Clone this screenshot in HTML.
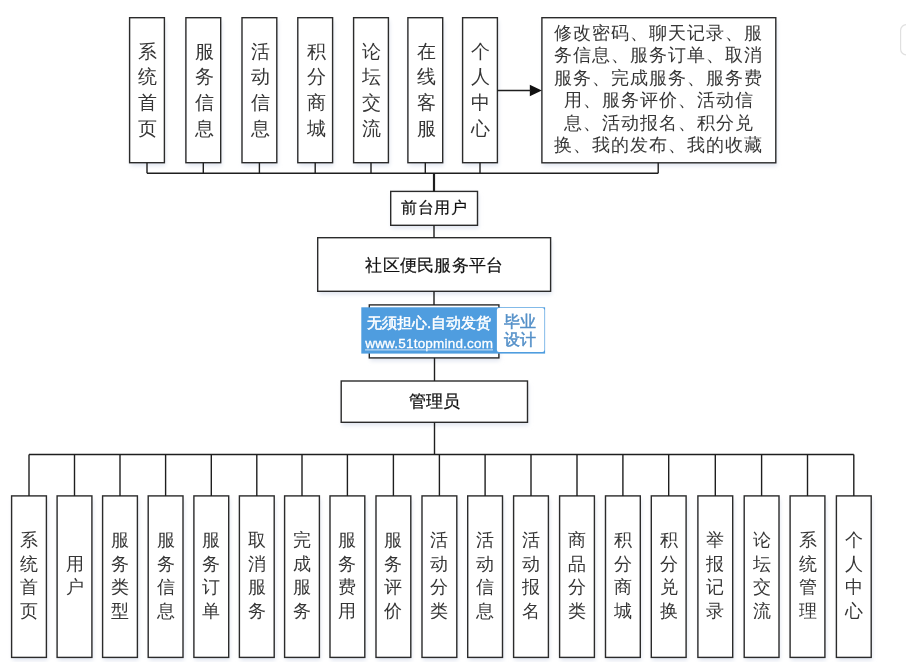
<!DOCTYPE html>
<html><head><meta charset="utf-8"><title>社区便民服务平台</title>
<style>
html,body{margin:0;padding:0;background:#fff;width:906px;height:662px;overflow:hidden}
svg{display:block;will-change:transform}
text{font-family:"Liberation Serif",serif;text-anchor:middle;dominant-baseline:central}
text.m,text.w,text.w2{font-family:"Liberation Sans",sans-serif}
text.wl{font-family:"Liberation Sans",sans-serif}
</style></head>
<body>
<svg width="906" height="662" viewBox="0 0 906 662">
<defs><filter id="sh" x="-50%" y="-50%" width="200%" height="200%"><feGaussianBlur stdDeviation="2"/></filter></defs>
<g filter="url(#sh)"><rect x="130.6" y="20.7" width="34.8" height="145" fill="#dfe4ef"/>
<rect x="186.9" y="20.7" width="34.8" height="145" fill="#dfe4ef"/>
<rect x="243" y="20.7" width="34.8" height="145" fill="#dfe4ef"/>
<rect x="298.8" y="20.7" width="34.8" height="145" fill="#dfe4ef"/>
<rect x="354.6" y="20.7" width="34.8" height="145" fill="#dfe4ef"/>
<rect x="408.9" y="20.7" width="34.8" height="145" fill="#dfe4ef"/>
<rect x="463.6" y="20.7" width="34.8" height="145" fill="#dfe4ef"/>
<rect x="542.9" y="20.7" width="233.9" height="145.1" fill="#dfe4ef"/>
<rect x="391.7" y="194.4" width="86.8" height="33.9" fill="#dfe4ef"/>
<rect x="318.7" y="240.7" width="232.9" height="53.6" fill="#dfe4ef"/>
<rect x="370.3" y="307.9" width="129.6" height="53" fill="#dfe4ef"/>
<rect x="342.2" y="384" width="186.3" height="41.3" fill="#dfe4ef"/>
<rect x="12.6" y="498.9" width="34.8" height="161.5" fill="#dfe4ef"/>
<rect x="58.1" y="498.9" width="34.8" height="161.5" fill="#dfe4ef"/>
<rect x="103.6" y="498.9" width="34.8" height="161.5" fill="#dfe4ef"/>
<rect x="149.2" y="498.9" width="34.8" height="161.5" fill="#dfe4ef"/>
<rect x="194.9" y="498.9" width="34.8" height="161.5" fill="#dfe4ef"/>
<rect x="240.4" y="498.9" width="34.8" height="161.5" fill="#dfe4ef"/>
<rect x="285.6" y="498.9" width="34.8" height="161.5" fill="#dfe4ef"/>
<rect x="331" y="498.9" width="34.8" height="161.5" fill="#dfe4ef"/>
<rect x="377" y="498.9" width="34.8" height="161.5" fill="#dfe4ef"/>
<rect x="423" y="498.9" width="34.8" height="161.5" fill="#dfe4ef"/>
<rect x="468.7" y="498.9" width="34.8" height="161.5" fill="#dfe4ef"/>
<rect x="514.6" y="498.9" width="34.8" height="161.5" fill="#dfe4ef"/>
<rect x="560.6" y="498.9" width="34.8" height="161.5" fill="#dfe4ef"/>
<rect x="606.5" y="498.9" width="34.8" height="161.5" fill="#dfe4ef"/>
<rect x="652.3" y="498.9" width="34.8" height="161.5" fill="#dfe4ef"/>
<rect x="698.9" y="498.9" width="34.8" height="161.5" fill="#dfe4ef"/>
<rect x="745.2" y="498.9" width="34.8" height="161.5" fill="#dfe4ef"/>
<rect x="791.1" y="498.9" width="34.8" height="161.5" fill="#dfe4ef"/>
<rect x="837.4" y="498.9" width="34.8" height="161.5" fill="#dfe4ef"/></g>
<rect x="129.6" y="17.7" width="34.8" height="145" fill="#fff" stroke="#2b2b2b" stroke-width="1.4"/>
<text class="t" x="147.8" y="51.2" font-size="19" fill="#363636" >系</text>
<text class="t" x="147.8" y="76.8" font-size="19" fill="#363636" >统</text>
<text class="t" x="147.8" y="102.4" font-size="19" fill="#363636" >首</text>
<text class="t" x="147.8" y="128" font-size="19" fill="#363636" >页</text>
<rect x="185.9" y="17.7" width="34.8" height="145" fill="#fff" stroke="#2b2b2b" stroke-width="1.4"/>
<text class="t" x="204.1" y="51.2" font-size="19" fill="#363636" >服</text>
<text class="t" x="204.1" y="76.8" font-size="19" fill="#363636" >务</text>
<text class="t" x="204.1" y="102.4" font-size="19" fill="#363636" >信</text>
<text class="t" x="204.1" y="128" font-size="19" fill="#363636" >息</text>
<rect x="242" y="17.7" width="34.8" height="145" fill="#fff" stroke="#2b2b2b" stroke-width="1.4"/>
<text class="t" x="260.2" y="51.2" font-size="19" fill="#363636" >活</text>
<text class="t" x="260.2" y="76.8" font-size="19" fill="#363636" >动</text>
<text class="t" x="260.2" y="102.4" font-size="19" fill="#363636" >信</text>
<text class="t" x="260.2" y="128" font-size="19" fill="#363636" >息</text>
<rect x="297.8" y="17.7" width="34.8" height="145" fill="#fff" stroke="#2b2b2b" stroke-width="1.4"/>
<text class="t" x="316" y="51.2" font-size="19" fill="#363636" >积</text>
<text class="t" x="316" y="76.8" font-size="19" fill="#363636" >分</text>
<text class="t" x="316" y="102.4" font-size="19" fill="#363636" >商</text>
<text class="t" x="316" y="128" font-size="19" fill="#363636" >城</text>
<rect x="353.6" y="17.7" width="34.8" height="145" fill="#fff" stroke="#2b2b2b" stroke-width="1.4"/>
<text class="t" x="371.8" y="51.2" font-size="19" fill="#363636" >论</text>
<text class="t" x="371.8" y="76.8" font-size="19" fill="#363636" >坛</text>
<text class="t" x="371.8" y="102.4" font-size="19" fill="#363636" >交</text>
<text class="t" x="371.8" y="128" font-size="19" fill="#363636" >流</text>
<rect x="407.9" y="17.7" width="34.8" height="145" fill="#fff" stroke="#2b2b2b" stroke-width="1.4"/>
<text class="t" x="426.1" y="51.2" font-size="19" fill="#363636" >在</text>
<text class="t" x="426.1" y="76.8" font-size="19" fill="#363636" >线</text>
<text class="t" x="426.1" y="102.4" font-size="19" fill="#363636" >客</text>
<text class="t" x="426.1" y="128" font-size="19" fill="#363636" >服</text>
<rect x="462.6" y="17.7" width="34.8" height="145" fill="#fff" stroke="#2b2b2b" stroke-width="1.4"/>
<text class="t" x="480.8" y="51.2" font-size="19" fill="#363636" >个</text>
<text class="t" x="480.8" y="76.8" font-size="19" fill="#363636" >人</text>
<text class="t" x="480.8" y="102.4" font-size="19" fill="#363636" >中</text>
<text class="t" x="480.8" y="128" font-size="19" fill="#363636" >心</text>
<rect x="541.9" y="17.7" width="233.9" height="145.1" fill="#fff" stroke="#2b2b2b" stroke-width="1.4"/>
<text class="t" x="658.8" y="32.8" font-size="18.2" fill="#363636" letter-spacing="1.0">修改密码、聊天记录、服</text>
<text class="t" x="658.8" y="55.3" font-size="18.2" fill="#363636" letter-spacing="1.0">务信息、服务订单、取消</text>
<text class="t" x="658.8" y="77.8" font-size="18.2" fill="#363636" letter-spacing="1.0">服务、完成服务、服务费</text>
<text class="t" x="658.8" y="100.3" font-size="18.2" fill="#363636" letter-spacing="1.0">用、服务评价、活动信</text>
<text class="t" x="658.8" y="122.8" font-size="18.2" fill="#363636" letter-spacing="1.0">息、活动报名、积分兑</text>
<text class="t" x="658.8" y="145.3" font-size="18.2" fill="#363636" letter-spacing="1.0">换、我的发布、我的收藏</text>
<polygon points="529.8,84.7 541.8,90.5 529.8,96.3" fill="#111"/>
<rect x="390.7" y="191.4" width="86.8" height="33.9" fill="#fff" stroke="#2b2b2b" stroke-width="1.4"/>
<text class="m" x="434.1" y="207.6" font-size="16" fill="#111" stroke="#111" stroke-width="0.2" letter-spacing="0.5">前台用户</text>
<rect x="317.7" y="237.7" width="232.9" height="53.6" fill="#fff" stroke="#2b2b2b" stroke-width="1.4"/>
<text class="m" x="434.5" y="264.8" font-size="16.5" fill="#111" stroke="#111" stroke-width="0.2" letter-spacing="0.3">社区便民服务平台</text>
<rect x="369.3" y="304.9" width="129.6" height="53" fill="#fff" stroke="#2b2b2b" stroke-width="1.4"/>
<rect x="341.2" y="381" width="186.3" height="41.3" fill="#fff" stroke="#2b2b2b" stroke-width="1.4"/>
<text class="m" x="434.6" y="401.2" font-size="16.8" fill="#111" stroke="#111" stroke-width="0.25">管理员</text>
<rect x="361.3" y="307.3" width="183.8" height="46.3" fill="#4f9ddf"/>
<rect x="496.9" y="307.9" width="47.5" height="44" rx="2" fill="#fff"/>
<text class="w" x="429" y="322.4" font-size="15" fill="#fff" stroke="#fff" stroke-width="0.5">无须担心.自动发货</text>
<text class="wl" x="429.2" y="343.2" font-size="13.5" fill="#fff" stroke="#fff" stroke-width="0.3" letter-spacing="0.2">www.51topmind.com</text>
<text class="w2" x="520" y="321.2" font-size="16" fill="#5490c8" stroke="#5490c8" stroke-width="0.5">毕业</text>
<text class="w2" x="520" y="339.8" font-size="16" fill="#5490c8" stroke="#5490c8" stroke-width="0.5">设计</text>
<rect x="11.6" y="495.9" width="34.8" height="161.5" fill="#fff" stroke="#2b2b2b" stroke-width="1.4"/>
<text class="t" x="29" y="540.35" font-size="17.5" fill="#363636" >系</text>
<text class="t" x="29" y="563.85" font-size="17.5" fill="#363636" >统</text>
<text class="t" x="29" y="587.35" font-size="17.5" fill="#363636" >首</text>
<text class="t" x="29" y="610.85" font-size="17.5" fill="#363636" >页</text>
<rect x="57.1" y="495.9" width="34.8" height="161.5" fill="#fff" stroke="#2b2b2b" stroke-width="1.4"/>
<text class="t" x="74.5" y="563.85" font-size="17.5" fill="#363636" >用</text>
<text class="t" x="74.5" y="587.35" font-size="17.5" fill="#363636" >户</text>
<rect x="102.6" y="495.9" width="34.8" height="161.5" fill="#fff" stroke="#2b2b2b" stroke-width="1.4"/>
<text class="t" x="120" y="540.35" font-size="17.5" fill="#363636" >服</text>
<text class="t" x="120" y="563.85" font-size="17.5" fill="#363636" >务</text>
<text class="t" x="120" y="587.35" font-size="17.5" fill="#363636" >类</text>
<text class="t" x="120" y="610.85" font-size="17.5" fill="#363636" >型</text>
<rect x="148.2" y="495.9" width="34.8" height="161.5" fill="#fff" stroke="#2b2b2b" stroke-width="1.4"/>
<text class="t" x="165.6" y="540.35" font-size="17.5" fill="#363636" >服</text>
<text class="t" x="165.6" y="563.85" font-size="17.5" fill="#363636" >务</text>
<text class="t" x="165.6" y="587.35" font-size="17.5" fill="#363636" >信</text>
<text class="t" x="165.6" y="610.85" font-size="17.5" fill="#363636" >息</text>
<rect x="193.9" y="495.9" width="34.8" height="161.5" fill="#fff" stroke="#2b2b2b" stroke-width="1.4"/>
<text class="t" x="211.3" y="540.35" font-size="17.5" fill="#363636" >服</text>
<text class="t" x="211.3" y="563.85" font-size="17.5" fill="#363636" >务</text>
<text class="t" x="211.3" y="587.35" font-size="17.5" fill="#363636" >订</text>
<text class="t" x="211.3" y="610.85" font-size="17.5" fill="#363636" >单</text>
<rect x="239.4" y="495.9" width="34.8" height="161.5" fill="#fff" stroke="#2b2b2b" stroke-width="1.4"/>
<text class="t" x="256.8" y="540.35" font-size="17.5" fill="#363636" >取</text>
<text class="t" x="256.8" y="563.85" font-size="17.5" fill="#363636" >消</text>
<text class="t" x="256.8" y="587.35" font-size="17.5" fill="#363636" >服</text>
<text class="t" x="256.8" y="610.85" font-size="17.5" fill="#363636" >务</text>
<rect x="284.6" y="495.9" width="34.8" height="161.5" fill="#fff" stroke="#2b2b2b" stroke-width="1.4"/>
<text class="t" x="302" y="540.35" font-size="17.5" fill="#363636" >完</text>
<text class="t" x="302" y="563.85" font-size="17.5" fill="#363636" >成</text>
<text class="t" x="302" y="587.35" font-size="17.5" fill="#363636" >服</text>
<text class="t" x="302" y="610.85" font-size="17.5" fill="#363636" >务</text>
<rect x="330" y="495.9" width="34.8" height="161.5" fill="#fff" stroke="#2b2b2b" stroke-width="1.4"/>
<text class="t" x="347.4" y="540.35" font-size="17.5" fill="#363636" >服</text>
<text class="t" x="347.4" y="563.85" font-size="17.5" fill="#363636" >务</text>
<text class="t" x="347.4" y="587.35" font-size="17.5" fill="#363636" >费</text>
<text class="t" x="347.4" y="610.85" font-size="17.5" fill="#363636" >用</text>
<rect x="376" y="495.9" width="34.8" height="161.5" fill="#fff" stroke="#2b2b2b" stroke-width="1.4"/>
<text class="t" x="393.4" y="540.35" font-size="17.5" fill="#363636" >服</text>
<text class="t" x="393.4" y="563.85" font-size="17.5" fill="#363636" >务</text>
<text class="t" x="393.4" y="587.35" font-size="17.5" fill="#363636" >评</text>
<text class="t" x="393.4" y="610.85" font-size="17.5" fill="#363636" >价</text>
<rect x="422" y="495.9" width="34.8" height="161.5" fill="#fff" stroke="#2b2b2b" stroke-width="1.4"/>
<text class="t" x="439.4" y="540.35" font-size="17.5" fill="#363636" >活</text>
<text class="t" x="439.4" y="563.85" font-size="17.5" fill="#363636" >动</text>
<text class="t" x="439.4" y="587.35" font-size="17.5" fill="#363636" >分</text>
<text class="t" x="439.4" y="610.85" font-size="17.5" fill="#363636" >类</text>
<rect x="467.7" y="495.9" width="34.8" height="161.5" fill="#fff" stroke="#2b2b2b" stroke-width="1.4"/>
<text class="t" x="485.1" y="540.35" font-size="17.5" fill="#363636" >活</text>
<text class="t" x="485.1" y="563.85" font-size="17.5" fill="#363636" >动</text>
<text class="t" x="485.1" y="587.35" font-size="17.5" fill="#363636" >信</text>
<text class="t" x="485.1" y="610.85" font-size="17.5" fill="#363636" >息</text>
<rect x="513.6" y="495.9" width="34.8" height="161.5" fill="#fff" stroke="#2b2b2b" stroke-width="1.4"/>
<text class="t" x="531" y="540.35" font-size="17.5" fill="#363636" >活</text>
<text class="t" x="531" y="563.85" font-size="17.5" fill="#363636" >动</text>
<text class="t" x="531" y="587.35" font-size="17.5" fill="#363636" >报</text>
<text class="t" x="531" y="610.85" font-size="17.5" fill="#363636" >名</text>
<rect x="559.6" y="495.9" width="34.8" height="161.5" fill="#fff" stroke="#2b2b2b" stroke-width="1.4"/>
<text class="t" x="577" y="540.35" font-size="17.5" fill="#363636" >商</text>
<text class="t" x="577" y="563.85" font-size="17.5" fill="#363636" >品</text>
<text class="t" x="577" y="587.35" font-size="17.5" fill="#363636" >分</text>
<text class="t" x="577" y="610.85" font-size="17.5" fill="#363636" >类</text>
<rect x="605.5" y="495.9" width="34.8" height="161.5" fill="#fff" stroke="#2b2b2b" stroke-width="1.4"/>
<text class="t" x="622.9" y="540.35" font-size="17.5" fill="#363636" >积</text>
<text class="t" x="622.9" y="563.85" font-size="17.5" fill="#363636" >分</text>
<text class="t" x="622.9" y="587.35" font-size="17.5" fill="#363636" >商</text>
<text class="t" x="622.9" y="610.85" font-size="17.5" fill="#363636" >城</text>
<rect x="651.3" y="495.9" width="34.8" height="161.5" fill="#fff" stroke="#2b2b2b" stroke-width="1.4"/>
<text class="t" x="668.7" y="540.35" font-size="17.5" fill="#363636" >积</text>
<text class="t" x="668.7" y="563.85" font-size="17.5" fill="#363636" >分</text>
<text class="t" x="668.7" y="587.35" font-size="17.5" fill="#363636" >兑</text>
<text class="t" x="668.7" y="610.85" font-size="17.5" fill="#363636" >换</text>
<rect x="697.9" y="495.9" width="34.8" height="161.5" fill="#fff" stroke="#2b2b2b" stroke-width="1.4"/>
<text class="t" x="715.3" y="540.35" font-size="17.5" fill="#363636" >举</text>
<text class="t" x="715.3" y="563.85" font-size="17.5" fill="#363636" >报</text>
<text class="t" x="715.3" y="587.35" font-size="17.5" fill="#363636" >记</text>
<text class="t" x="715.3" y="610.85" font-size="17.5" fill="#363636" >录</text>
<rect x="744.2" y="495.9" width="34.8" height="161.5" fill="#fff" stroke="#2b2b2b" stroke-width="1.4"/>
<text class="t" x="761.6" y="540.35" font-size="17.5" fill="#363636" >论</text>
<text class="t" x="761.6" y="563.85" font-size="17.5" fill="#363636" >坛</text>
<text class="t" x="761.6" y="587.35" font-size="17.5" fill="#363636" >交</text>
<text class="t" x="761.6" y="610.85" font-size="17.5" fill="#363636" >流</text>
<rect x="790.1" y="495.9" width="34.8" height="161.5" fill="#fff" stroke="#2b2b2b" stroke-width="1.4"/>
<text class="t" x="807.5" y="540.35" font-size="17.5" fill="#363636" >系</text>
<text class="t" x="807.5" y="563.85" font-size="17.5" fill="#363636" >统</text>
<text class="t" x="807.5" y="587.35" font-size="17.5" fill="#363636" >管</text>
<text class="t" x="807.5" y="610.85" font-size="17.5" fill="#363636" >理</text>
<rect x="836.4" y="495.9" width="34.8" height="161.5" fill="#fff" stroke="#2b2b2b" stroke-width="1.4"/>
<text class="t" x="853.8" y="540.35" font-size="17.5" fill="#363636" >个</text>
<text class="t" x="853.8" y="563.85" font-size="17.5" fill="#363636" >人</text>
<text class="t" x="853.8" y="587.35" font-size="17.5" fill="#363636" >中</text>
<text class="t" x="853.8" y="610.85" font-size="17.5" fill="#363636" >心</text>
<rect x="900.6" y="24.5" width="20" height="30.5" rx="6" fill="#fff" stroke="#e0e0e0" stroke-width="1.2"/>
<line x1="147" y1="162.7" x2="147" y2="173.3" stroke="#1e1e1e" stroke-width="1.4"/>
<line x1="203.3" y1="162.7" x2="203.3" y2="173.3" stroke="#1e1e1e" stroke-width="1.4"/>
<line x1="259.4" y1="162.7" x2="259.4" y2="173.3" stroke="#1e1e1e" stroke-width="1.4"/>
<line x1="315.2" y1="162.7" x2="315.2" y2="173.3" stroke="#1e1e1e" stroke-width="1.4"/>
<line x1="371" y1="162.7" x2="371" y2="173.3" stroke="#1e1e1e" stroke-width="1.4"/>
<line x1="425.3" y1="162.7" x2="425.3" y2="173.3" stroke="#1e1e1e" stroke-width="1.4"/>
<line x1="480" y1="162.7" x2="480" y2="173.3" stroke="#1e1e1e" stroke-width="1.4"/>
<line x1="147" y1="173.3" x2="658.2" y2="173.3" stroke="#1e1e1e" stroke-width="1.4"/>
<line x1="658.2" y1="162.8" x2="658.2" y2="173.3" stroke="#1e1e1e" stroke-width="1.4"/>
<line x1="434" y1="173.3" x2="434" y2="191.4" stroke="#1e1e1e" stroke-width="2.2"/>
<line x1="497.1" y1="90.5" x2="531" y2="90.5" stroke="#1e1e1e" stroke-width="1.4"/>
<line x1="434" y1="225.3" x2="434" y2="237.7" stroke="#1e1e1e" stroke-width="1.4"/>
<line x1="434" y1="291.3" x2="434" y2="304.9" stroke="#1e1e1e" stroke-width="1.4"/>
<line x1="434.5" y1="357.9" x2="434.5" y2="381" stroke="#1e1e1e" stroke-width="1.4"/>
<line x1="434.5" y1="422.3" x2="434.5" y2="454.5" stroke="#1e1e1e" stroke-width="1.4"/>
<line x1="365" y1="349.9" x2="493" y2="349.9" stroke="#cfe3f7" stroke-width="1"/>
<line x1="29" y1="454.5" x2="29" y2="495.9" stroke="#1e1e1e" stroke-width="1.4"/>
<line x1="74.5" y1="454.5" x2="74.5" y2="495.9" stroke="#1e1e1e" stroke-width="1.4"/>
<line x1="120" y1="454.5" x2="120" y2="495.9" stroke="#1e1e1e" stroke-width="1.4"/>
<line x1="165.6" y1="454.5" x2="165.6" y2="495.9" stroke="#1e1e1e" stroke-width="1.4"/>
<line x1="211.3" y1="454.5" x2="211.3" y2="495.9" stroke="#1e1e1e" stroke-width="1.4"/>
<line x1="256.8" y1="454.5" x2="256.8" y2="495.9" stroke="#1e1e1e" stroke-width="1.4"/>
<line x1="302" y1="454.5" x2="302" y2="495.9" stroke="#1e1e1e" stroke-width="1.4"/>
<line x1="347.4" y1="454.5" x2="347.4" y2="495.9" stroke="#1e1e1e" stroke-width="1.4"/>
<line x1="393.4" y1="454.5" x2="393.4" y2="495.9" stroke="#1e1e1e" stroke-width="1.4"/>
<line x1="439.4" y1="454.5" x2="439.4" y2="495.9" stroke="#1e1e1e" stroke-width="1.4"/>
<line x1="485.1" y1="454.5" x2="485.1" y2="495.9" stroke="#1e1e1e" stroke-width="1.4"/>
<line x1="531" y1="454.5" x2="531" y2="495.9" stroke="#1e1e1e" stroke-width="1.4"/>
<line x1="577" y1="454.5" x2="577" y2="495.9" stroke="#1e1e1e" stroke-width="1.4"/>
<line x1="622.9" y1="454.5" x2="622.9" y2="495.9" stroke="#1e1e1e" stroke-width="1.4"/>
<line x1="668.7" y1="454.5" x2="668.7" y2="495.9" stroke="#1e1e1e" stroke-width="1.4"/>
<line x1="715.3" y1="454.5" x2="715.3" y2="495.9" stroke="#1e1e1e" stroke-width="1.4"/>
<line x1="761.6" y1="454.5" x2="761.6" y2="495.9" stroke="#1e1e1e" stroke-width="1.4"/>
<line x1="807.5" y1="454.5" x2="807.5" y2="495.9" stroke="#1e1e1e" stroke-width="1.4"/>
<line x1="853.8" y1="454.5" x2="853.8" y2="495.9" stroke="#1e1e1e" stroke-width="1.4"/>
<line x1="29" y1="454.5" x2="853.8" y2="454.5" stroke="#1e1e1e" stroke-width="1.4"/>
</svg>
</body></html>
